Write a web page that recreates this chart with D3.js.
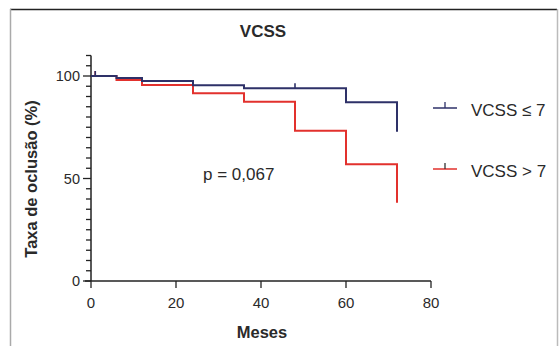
<!DOCTYPE html>
<html>
<head>
<meta charset="utf-8">
<script src="https://cdn.jsdelivr.net/npm/d3@7"></script>
<style>
  body { margin: 0; background: #fff; }
  text { font-family: "Liberation Sans", Arial, sans-serif; fill: #2a2a2a; }
</style>
</head>
<body>
<svg width="559" height="346"></svg>
<script>
const svg = d3.select("svg")

// survival data (months, % not occluded)
const blueTimes = [0, 6, 12, 24, 36, 60, 72]
const blueSurv = [100, 99, 97.6, 95.5, 94, 87.2, 72.8]
const blueCensor = [1, 48]
const redTimes = [0, 6, 12, 24, 36, 48, 60, 72]
const redSurv = [100, 98, 95.6, 91.6, 87.5, 73.3, 57, 38.2]
const redCensor = [1]

const xTicks = [0, 20, 40, 60, 80]
const yTicks = [0, 50, 100]
const seriesNames = ["VCSS \u2264 7", "VCSS > 7"]
const seriesColors = ["#2e3168", "#e2312d"]

const x = d3.scaleLinear().domain([0, 80]).range([91, 431])
const y = d3.scaleLinear().domain([0, 100]).range([281, 76])

// frame around the figure
svg.append("line").attr("x1", 10).attr("x2", 557).attr("y1", 9.5).attr("y2", 9.5)
  .attr("stroke", "#222").attr("stroke-width", 1.5)
svg.append("line").attr("x1", 10.5).attr("x2", 10.5).attr("y1", 9).attr("y2", 346)
  .attr("stroke", "#aaa").attr("stroke-width", 1.5)
svg.append("line").attr("x1", 557.5).attr("x2", 557.5).attr("y1", 9).attr("y2", 346)
  .attr("stroke", "#bbb").attr("stroke-width", 1.5)

// y axis, minor ticks every 5 up to 110
const yAxisG = svg.append("g").attr("transform", "translate(" + x(0) + ",0)")
yAxisG.append("line").attr("y1", y(0)).attr("y2", y(110)).attr("stroke", "#222").attr("stroke-width", 1.5)
yAxisG.selectAll("line.minor").data(d3.range(0, 111, 5)).join("line")
  .attr("class", "minor")
  .attr("x1", d => yTicks.includes(d) ? -8 : -5).attr("x2", 0)
  .attr("y1", d => y(d)).attr("y2", d => y(d))
  .attr("stroke", "#222").attr("stroke-width", 1.3)
yAxisG.selectAll("text").data(yTicks).join("text")
  .attr("x", -11).attr("y", d => y(d) + 5)
  .attr("text-anchor", "end").attr("font-size", 14.5)
  .text(d => d)

// x axis
const xAxisG = svg.append("g").attr("transform", "translate(0," + y(0) + ")")
xAxisG.append("line").attr("x1", x(0) - 6).attr("x2", x(80)).attr("stroke", "#222").attr("stroke-width", 1.5)
xAxisG.selectAll("line.tick").data(xTicks).join("line")
  .attr("class", "tick")
  .attr("x1", d => x(d)).attr("x2", d => x(d)).attr("y1", 0).attr("y2", 7)
  .attr("stroke", "#222").attr("stroke-width", 1.3)
xAxisG.selectAll("text").data(xTicks).join("text")
  .attr("x", d => x(d)).attr("y", 27)
  .attr("text-anchor", "middle").attr("font-size", 15)
  .text(d => d)

// step curves
const step = d3.line().x(d => x(d[0])).y(d => y(d[1])).curve(d3.curveStepAfter)

function drawSeries(times, surv, censor, color) {
  const pts = times.map((t, i) => [t, surv[i]])
  svg.append("path").attr("d", step(pts))
    .attr("fill", "none").attr("stroke", color).attr("stroke-width", 2)
  censor.forEach(t => {
    const v = surv[d3.bisectRight(times, t) - 1]
    svg.append("line")
      .attr("x1", x(t)).attr("x2", x(t)).attr("y1", y(v)).attr("y2", y(v) - 5)
      .attr("stroke", color).attr("stroke-width", 1.6)
  })
}
drawSeries(redTimes, redSurv, redCensor, seriesColors[1])
drawSeries(blueTimes, blueSurv, blueCensor, seriesColors[0])

// legend
const legendY = [108, 169]
seriesNames.forEach((name, i) => {
  const lg = svg.append("g").attr("transform", "translate(433," + legendY[i] + ")")
  lg.append("line").attr("x1", 0).attr("x2", 24).attr("stroke", seriesColors[i]).attr("stroke-width", 1.5)
  lg.append("line").attr("x1", 12).attr("x2", 12).attr("y1", 0).attr("y2", -6)
    .attr("stroke", i === 0 ? seriesColors[0] : "#333").attr("stroke-width", 1.3)
  lg.append("text").attr("x", 38).attr("y", 8).attr("font-size", 17).text(name)
})

// annotations
svg.append("text").attr("x", 203).attr("y", 180).attr("font-size", 17).text("p = 0,067")

svg.append("text").attr("x", 263).attr("y", 37)
  .attr("text-anchor", "middle").attr("font-size", 17).attr("font-weight", "bold")
  .text("VCSS")

svg.append("text").attr("x", 262).attr("y", 338)
  .attr("text-anchor", "middle").attr("font-size", 16.5).attr("font-weight", "bold")
  .text("Meses")

svg.append("text")
  .attr("transform", "translate(37,179) rotate(-90)")
  .attr("text-anchor", "middle").attr("font-size", 16.5).attr("font-weight", "bold")
  .text("Taxa de oclusão (%)")
</script>
</body>
</html>
